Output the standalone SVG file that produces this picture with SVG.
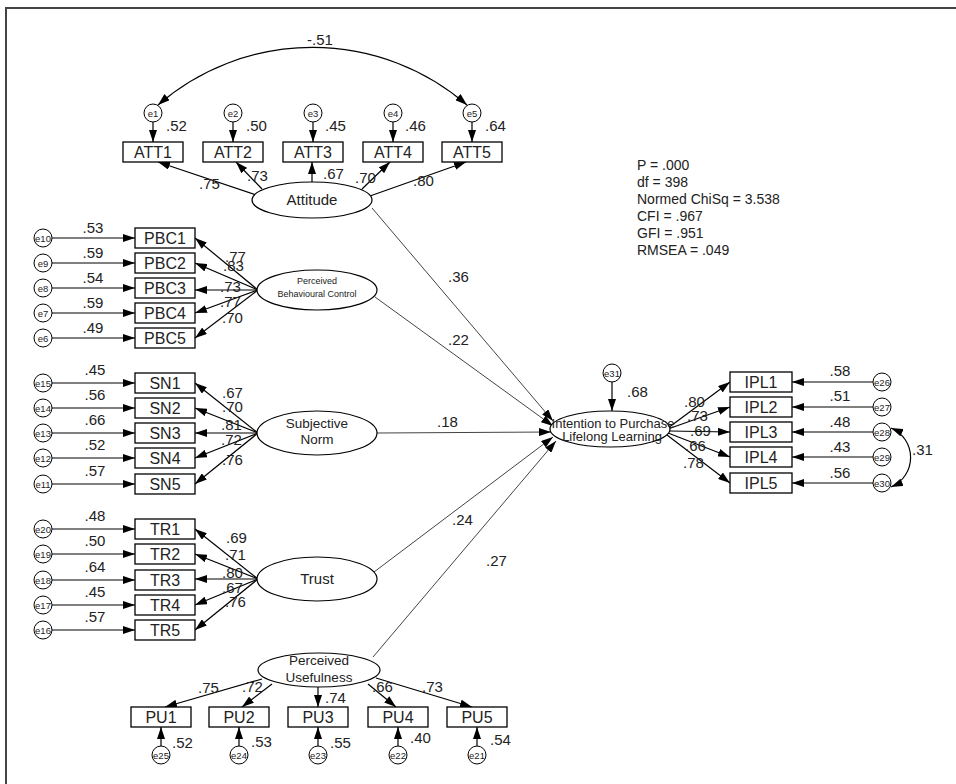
<svg xmlns="http://www.w3.org/2000/svg" width="956" height="784" viewBox="0 0 956 784">
<defs>
<marker id="ah" viewBox="0 0 12 8" refX="12" refY="4" markerWidth="12" markerHeight="8" markerUnits="userSpaceOnUse" orient="auto-start-reverse"><path d="M0,0 L12,4 L0,8 z" fill="#000"/></marker>
<style>
text{font-family:"Liberation Sans",Arial,sans-serif;fill:#222}
.box{fill:#fff;stroke:#000;stroke-width:1.3}
.lat{fill:#fff;stroke:#000;stroke-width:1.2}
.err{fill:#fff;stroke:#000;stroke-width:1}
.bt{font-size:16px;text-anchor:middle}
.et{font-size:9.5px;text-anchor:middle}
.v{font-size:15px}
.vm{font-size:15px;text-anchor:middle}
.lt{text-anchor:middle}
.a{stroke:#000;stroke-width:1.2;fill:none;marker-end:url(#ah)}
.s{stroke:#444;stroke-width:1;fill:none;marker-end:url(#ah)}
.cov{stroke:#000;stroke-width:1.2;fill:none;marker-start:url(#ah);marker-end:url(#ah)}
.fit{font-size:14px}
</style>
</defs>
<rect width="956" height="784" fill="#fff"/>
<path d="M6,784 V8 H956" fill="none" stroke="#444" stroke-width="2"/>

<g id="connectors">
<path class="cov" d="M158,105 A236 236 0 0 1 467,105"/>
<text class="v lt" x="320" y="45">-.51</text>
<path class="cov" d="M891,428 A32 32 0 0 1 891,487"/>
<text class="v" x="912" y="455">.31</text>
<path class="a" d="M153,122 V142"/><path class="a" d="M233,122 V142"/><path class="a" d="M313,122 V142"/><path class="a" d="M393,122 V142"/><path class="a" d="M472,122 V142"/>
<text class="v" x="166" y="131">.52</text><text class="v" x="246" y="131">.50</text><text class="v" x="325" y="131">.45</text><text class="v" x="405" y="131">.46</text><text class="v" x="485" y="131">.64</text>
<path class="a" d="M256,195 L158,162"/><path class="a" d="M262,189 L236,162"/><path class="a" d="M312,182 V162"/><path class="a" d="M362,189 L390,162"/><path class="a" d="M370,196 L466,162"/>
<text class="v" x="199" y="189">.75</text><text class="v" x="247" y="181">.73</text><text class="v" x="323" y="179">.67</text><text class="v" x="355" y="183">.70</text><text class="v" x="413" y="186">.80</text>
<path class="a" d="M52,238 H135"/><path class="a" d="M52,263 H135"/><path class="a" d="M52,288 H135"/><path class="a" d="M52,313 H135"/><path class="a" d="M52,338 H135"/>
<text class="vm" x="93" y="233">.53</text><text class="vm" x="93" y="258">.59</text><text class="vm" x="93" y="283">.54</text><text class="vm" x="93" y="308">.59</text><text class="vm" x="93" y="333">.49</text>
<path class="a" d="M258,290 L195,238"/><path class="a" d="M258,290 L195,263"/><path class="a" d="M258,290 H195"/><path class="a" d="M258,290 L195,313"/><path class="a" d="M258,290 L195,338"/>
<text class="v" x="225" y="262">.77</text><text class="v" x="223" y="271">.83</text><text class="v" x="220" y="292">.73</text><text class="v" x="220" y="307">.77</text><text class="v" x="222" y="323">.70</text>
<path class="a" d="M52,383 H135"/><path class="a" d="M52,408 H135"/><path class="a" d="M52,433 H135"/><path class="a" d="M52,458 H135"/><path class="a" d="M52,484 H135"/>
<text class="vm" x="95" y="375">.45</text><text class="vm" x="95" y="400">.56</text><text class="vm" x="95" y="425">.66</text><text class="vm" x="95" y="450">.52</text><text class="vm" x="95" y="476">.57</text>
<path class="a" d="M258,433 L195,383"/><path class="a" d="M258,433 L195,408"/><path class="a" d="M258,433 H195"/><path class="a" d="M258,433 L195,458"/><path class="a" d="M258,433 L195,484"/>
<text class="v" x="222" y="398">.67</text><text class="v" x="222" y="412">.70</text><text class="v" x="221" y="430">.81</text><text class="v" x="221" y="445">.72</text><text class="v" x="222" y="465">.76</text>
<path class="a" d="M52,529 H135"/><path class="a" d="M52,554 H135"/><path class="a" d="M52,580 H135"/><path class="a" d="M52,605 H135"/><path class="a" d="M52,630 H135"/>
<text class="vm" x="95" y="521">.48</text><text class="vm" x="95" y="546">.50</text><text class="vm" x="95" y="572">.64</text><text class="vm" x="95" y="597">.45</text><text class="vm" x="95" y="622">.57</text>
<path class="a" d="M258,579 L195,529"/><path class="a" d="M258,579 L195,554"/><path class="a" d="M258,579 H195"/><path class="a" d="M258,579 L195,605"/><path class="a" d="M258,579 L195,630"/>
<text class="v" x="226" y="543">.69</text><text class="v" x="225" y="560">.71</text><text class="v" x="222" y="578">.80</text><text class="v" x="222" y="593">.67</text><text class="v" x="225" y="607">.76</text>
<path class="a" d="M262,679 L165,707"/><path class="a" d="M272,684 L242,707"/><path class="a" d="M318,687 V707"/><path class="a" d="M368,684 L396,707"/><path class="a" d="M376,678 L472,707"/>
<text class="v" x="198" y="693">.75</text><text class="v" x="242" y="692">.72</text><text class="v" x="325" y="703">.74</text><text class="v" x="372" y="692">.66</text><text class="v" x="422" y="692">.73</text>
<path class="a" d="M161,746 V727"/><path class="a" d="M239,746 V727"/><path class="a" d="M318,746 V727"/><path class="a" d="M398,746 V727"/><path class="a" d="M477,746 V727"/>
<text class="v" x="172" y="748">.52</text><text class="v" x="251" y="747">.53</text><text class="v" x="330" y="748">.55</text><text class="v" x="410" y="743">.40</text><text class="v" x="490" y="745">.54</text>
<path class="a" d="M612,382 V411"/>
<text class="v" x="627" y="397">.68</text>
<path class="a" d="M668,428 L730,382"/><path class="a" d="M668,429 L730,407"/><path class="a" d="M669,431 L730,432"/><path class="a" d="M668,433 L730,457"/><path class="a" d="M667,435 L730,483"/>
<text class="v" x="684" y="407">.80</text><text class="v" x="687" y="421">.73</text><text class="v" x="690" y="436">.69</text><text class="v" x="685" y="451">.66</text><text class="v" x="683" y="468">.78</text>
<path class="a" d="M873,382 H792"/><path class="a" d="M873,407 H792"/><path class="a" d="M873,432 H792"/><path class="a" d="M873,457 H792"/><path class="a" d="M873,483 H792"/>
<text class="vm" x="840" y="376">.58</text><text class="vm" x="840" y="401">.51</text><text class="vm" x="840" y="427">.48</text><text class="vm" x="840" y="452">.43</text><text class="vm" x="840" y="478">.56</text>
<path class="s" d="M372,208 L553,421"/>
<path class="s" d="M375,297 L553,426"/>
<path class="s" d="M377,433 L551,432"/>
<path class="s" d="M374,572 L553,437"/>
<path class="s" d="M373,657 L556,441"/>
<text class="v" x="448" y="282">.36</text>
<text class="v" x="448" y="345">.22</text>
<text class="v" x="437" y="427">.18</text>
<text class="v" x="452" y="525">.24</text>
<text class="v" x="486" y="566">.27</text>
</g>

<g id="fit">
<text class="fit" x="637" y="170">P = .000</text>
<text class="fit" x="637" y="187">df = 398</text>
<text class="fit" x="637" y="204">Normed ChiSq = 3.538</text>
<text class="fit" x="637" y="221">CFI = .967</text>
<text class="fit" x="637" y="238">GFI = .951</text>
<text class="fit" x="637" y="255">RMSEA = .049</text>
</g>

<g id="Attitude"><ellipse class="lat" cx="312" cy="200" rx="60" ry="18"/><text class="lt" x="312" y="205" font-size="15">Attitude</text></g>
<g id="PBC"><ellipse class="lat" cx="317" cy="290" rx="60" ry="20"/><text class="lt" x="317" y="284" font-size="9">Perceived</text><text class="lt" x="317" y="297" font-size="9">Behavioural Control</text></g>
<g id="SN"><ellipse class="lat" cx="317" cy="433" rx="60" ry="22"/><text class="lt" x="317" y="428" font-size="13.5">Subjective</text><text class="lt" x="317" y="444" font-size="13.5">Norm</text></g>
<g id="Trust"><ellipse class="lat" cx="317" cy="579" rx="60" ry="22"/><text class="lt" x="317" y="584" font-size="15">Trust</text></g>
<g id="PU"><ellipse class="lat" cx="319" cy="670" rx="61" ry="17"/><text class="lt" x="319" y="665" font-size="13.5">Perceived</text><text class="lt" x="319" y="682" font-size="13.5">Usefulness</text></g>
<g id="IPL"><ellipse class="lat" cx="610" cy="429" rx="60" ry="18"/><text class="lt" x="613" y="428" font-size="13">Intention to Purchase</text><text class="lt" x="612" y="441" font-size="13">Lifelong Learning</text></g>

<g id="ATT1"><rect class="box" x="123" y="142" width="60" height="20"/><text class="bt" x="153" y="158">ATT1</text></g>
<g id="ATT2"><rect class="box" x="203" y="142" width="60" height="20"/><text class="bt" x="233" y="158">ATT2</text></g>
<g id="ATT3"><rect class="box" x="283" y="142" width="60" height="20"/><text class="bt" x="313" y="158">ATT3</text></g>
<g id="ATT4"><rect class="box" x="363" y="142" width="60" height="20"/><text class="bt" x="393" y="158">ATT4</text></g>
<g id="ATT5"><rect class="box" x="442" y="142" width="60" height="20"/><text class="bt" x="472" y="158">ATT5</text></g>
<g id="PBC1"><rect class="box" x="135" y="228" width="60" height="20"/><text class="bt" x="165" y="244">PBC1</text></g>
<g id="PBC2"><rect class="box" x="135" y="253" width="60" height="20"/><text class="bt" x="165" y="269">PBC2</text></g>
<g id="PBC3"><rect class="box" x="135" y="278" width="60" height="20"/><text class="bt" x="165" y="294">PBC3</text></g>
<g id="PBC4"><rect class="box" x="135" y="303" width="60" height="20"/><text class="bt" x="165" y="319">PBC4</text></g>
<g id="PBC5"><rect class="box" x="135" y="328" width="60" height="20"/><text class="bt" x="165" y="344">PBC5</text></g>
<g id="SN1"><rect class="box" x="135" y="373" width="60" height="20"/><text class="bt" x="165" y="389">SN1</text></g>
<g id="SN2"><rect class="box" x="135" y="398" width="60" height="20"/><text class="bt" x="165" y="414">SN2</text></g>
<g id="SN3"><rect class="box" x="135" y="423" width="60" height="20"/><text class="bt" x="165" y="439">SN3</text></g>
<g id="SN4"><rect class="box" x="135" y="448" width="60" height="20"/><text class="bt" x="165" y="464">SN4</text></g>
<g id="SN5"><rect class="box" x="135" y="474" width="60" height="20"/><text class="bt" x="165" y="490">SN5</text></g>
<g id="TR1"><rect class="box" x="135" y="519" width="60" height="20"/><text class="bt" x="165" y="535">TR1</text></g>
<g id="TR2"><rect class="box" x="135" y="544" width="60" height="20"/><text class="bt" x="165" y="560">TR2</text></g>
<g id="TR3"><rect class="box" x="135" y="570" width="60" height="20"/><text class="bt" x="165" y="586">TR3</text></g>
<g id="TR4"><rect class="box" x="135" y="595" width="60" height="20"/><text class="bt" x="165" y="611">TR4</text></g>
<g id="TR5"><rect class="box" x="135" y="620" width="60" height="20"/><text class="bt" x="165" y="636">TR5</text></g>
<g id="PU1"><rect class="box" x="131" y="707" width="60" height="20"/><text class="bt" x="161" y="723">PU1</text></g>
<g id="PU2"><rect class="box" x="209" y="707" width="60" height="20"/><text class="bt" x="239" y="723">PU2</text></g>
<g id="PU3"><rect class="box" x="288" y="707" width="60" height="20"/><text class="bt" x="318" y="723">PU3</text></g>
<g id="PU4"><rect class="box" x="368" y="707" width="60" height="20"/><text class="bt" x="398" y="723">PU4</text></g>
<g id="PU5"><rect class="box" x="447" y="707" width="60" height="20"/><text class="bt" x="477" y="723">PU5</text></g>
<g id="IPL1"><rect class="box" x="730" y="372" width="62" height="20"/><text class="bt" x="761" y="388">IPL1</text></g>
<g id="IPL2"><rect class="box" x="730" y="397" width="62" height="20"/><text class="bt" x="761" y="413">IPL2</text></g>
<g id="IPL3"><rect class="box" x="730" y="422" width="62" height="20"/><text class="bt" x="761" y="438">IPL3</text></g>
<g id="IPL4"><rect class="box" x="730" y="447" width="62" height="20"/><text class="bt" x="761" y="463">IPL4</text></g>
<g id="IPL5"><rect class="box" x="730" y="473" width="62" height="20"/><text class="bt" x="761" y="489">IPL5</text></g>

<g id="e1"><circle class="err" cx="153" cy="113" r="9"/><text class="et" x="153" y="116.5">e1</text></g>
<g id="e2"><circle class="err" cx="233" cy="113" r="9"/><text class="et" x="233" y="116.5">e2</text></g>
<g id="e3"><circle class="err" cx="313" cy="113" r="9"/><text class="et" x="313" y="116.5">e3</text></g>
<g id="e4"><circle class="err" cx="393" cy="113" r="9"/><text class="et" x="393" y="116.5">e4</text></g>
<g id="e5"><circle class="err" cx="472" cy="113" r="9"/><text class="et" x="472" y="116.5">e5</text></g>
<g id="e10"><circle class="err" cx="43" cy="238" r="9"/><text class="et" x="43" y="241.5">e10</text></g>
<g id="e9"><circle class="err" cx="43" cy="263" r="9"/><text class="et" x="43" y="266.5">e9</text></g>
<g id="e8"><circle class="err" cx="43" cy="288" r="9"/><text class="et" x="43" y="291.5">e8</text></g>
<g id="e7"><circle class="err" cx="43" cy="313" r="9"/><text class="et" x="43" y="316.5">e7</text></g>
<g id="e6"><circle class="err" cx="43" cy="338" r="9"/><text class="et" x="43" y="341.5">e6</text></g>
<g id="e15"><circle class="err" cx="43" cy="383" r="9"/><text class="et" x="43" y="386.5">e15</text></g>
<g id="e14"><circle class="err" cx="43" cy="408" r="9"/><text class="et" x="43" y="411.5">e14</text></g>
<g id="e13"><circle class="err" cx="43" cy="433" r="9"/><text class="et" x="43" y="436.5">e13</text></g>
<g id="e12"><circle class="err" cx="43" cy="458" r="9"/><text class="et" x="43" y="461.5">e12</text></g>
<g id="e11"><circle class="err" cx="43" cy="484" r="9"/><text class="et" x="43" y="487.5">e11</text></g>
<g id="e20"><circle class="err" cx="43" cy="529" r="9"/><text class="et" x="43" y="532.5">e20</text></g>
<g id="e19"><circle class="err" cx="43" cy="554" r="9"/><text class="et" x="43" y="557.5">e19</text></g>
<g id="e18"><circle class="err" cx="43" cy="580" r="9"/><text class="et" x="43" y="583.5">e18</text></g>
<g id="e17"><circle class="err" cx="43" cy="605" r="9"/><text class="et" x="43" y="608.5">e17</text></g>
<g id="e16"><circle class="err" cx="43" cy="630" r="9"/><text class="et" x="43" y="633.5">e16</text></g>
<g id="e25"><circle class="err" cx="161" cy="755" r="9"/><text class="et" x="161" y="758.5">e25</text></g>
<g id="e24"><circle class="err" cx="239" cy="755" r="9"/><text class="et" x="239" y="758.5">e24</text></g>
<g id="e23"><circle class="err" cx="318" cy="755" r="9"/><text class="et" x="318" y="758.5">e23</text></g>
<g id="e22"><circle class="err" cx="398" cy="755" r="9"/><text class="et" x="398" y="758.5">e22</text></g>
<g id="e21"><circle class="err" cx="477" cy="755" r="9"/><text class="et" x="477" y="758.5">e21</text></g>
<g id="e31"><circle class="err" cx="612" cy="373" r="9"/><text class="et" x="612" y="376.5">e31</text></g>
<g id="e26"><circle class="err" cx="882" cy="382" r="9"/><text class="et" x="882" y="385.5">e26</text></g>
<g id="e27"><circle class="err" cx="882" cy="407" r="9"/><text class="et" x="882" y="410.5">e27</text></g>
<g id="e28"><circle class="err" cx="882" cy="432" r="9"/><text class="et" x="882" y="435.5">e28</text></g>
<g id="e29"><circle class="err" cx="882" cy="457" r="9"/><text class="et" x="882" y="460.5">e29</text></g>
<g id="e30"><circle class="err" cx="882" cy="483" r="9"/><text class="et" x="882" y="486.5">e30</text></g>
</svg>
